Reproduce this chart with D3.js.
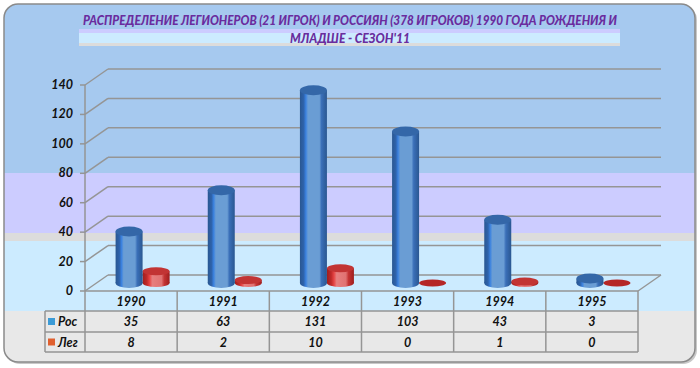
<!DOCTYPE html>
<html><head><meta charset="utf-8">
<script src="https://cdn.jsdelivr.net/npm/d3@7/dist/d3.min.js"></script>
<style>body{margin:0;background:#fff}svg{display:block}</style>
</head><body>
<script>
const categories = ["1990","1991","1992","1993","1994","1995"];
const seriesNames = ["Рос","Лег"];
const rosValues = [35,63,131,103,43,3];
const legValues = [8,2,10,0,1,0];
const yTicks = [0,20,40,60,80,100,120,140];
const titleLines = ["РАСПРЕДЕЛЕНИЕ ЛЕГИОНЕРОВ (21 ИГРОК) И РОССИЯН (378 ИГРОКОВ) 1990 ГОДА РОЖДЕНИЯ И","МЛАДШЕ - СЕЗОН'11"];

const W=700,H=368;
const svg=d3.select("body").append("svg").attr("width",W).attr("height",H);
const defs=svg.append("defs");
const font="Lato, 'Open Sans', sans-serif";

// frame
defs.append("clipPath").attr("id","fr").append("rect").attr("x",4).attr("y",4).attr("width",691).attr("height",358).attr("rx",14);
svg.append("rect").attr("x",6).attr("y",6).attr("width",691).attr("height",358).attr("rx",14).attr("fill","#c8c8c8");
const g=svg.append("g").attr("clip-path","url(#fr)");
const bands=[[0,173,"#A6C9EF"],[173,233,"#CCCCFF"],[233,241,"#DCDCDC"],[241,311,"#CCEBFF"],[311,368,"#E8E8E8"]];
bands.forEach(b=>g.append("rect").attr("x",0).attr("y",b[0]).attr("width",W).attr("height",b[1]-b[0]).attr("fill",b[2]));
svg.append("rect").attr("x",4).attr("y",4).attr("width",691).attr("height",358).attr("rx",14).attr("fill","none").attr("stroke","#8a8a8a").attr("stroke-width",1.5);

// title band
[[29,33,"#CCCCFF"],[33,43,"#CCEBFF"],[43,46,"#DCDCDC"]].forEach(b=>svg.append("rect").attr("x",79).attr("y",b[0]).attr("width",541).attr("height",b[1]-b[0]).attr("fill",b[2]));
const tt=t=>t.attr("text-anchor","middle").attr("font-family",font).attr("font-size",12.5).attr("font-weight","900").attr("font-style","italic").attr("fill","#6A2C9E").attr("lengthAdjust","spacingAndGlyphs");
tt(svg.append("text").attr("x",350).attr("y",25).attr("textLength",534)).text(titleLines[0]);
tt(svg.append("text").attr("x",350).attr("y",43).attr("textLength",120)).text(titleLines[1]);

// scales
const x0=85,x1=638,dx=23,dy=-16;
const x=d3.scaleBand().domain(categories).range([x0,x1]);
const yF=d3.scaleLinear().domain([0,140]).range([291,85]);
const yB=d3.scaleLinear().domain([0,140]).range([291+dy,85+dy]);
const yM=d3.scaleLinear().domain([0,140]).range([283,77]);
const gc="#959595";

// gridlines
yTicks.forEach(t=>{
  svg.append("line").attr("x1",x0).attr("y1",yF(t)).attr("x2",x0+dx).attr("y2",yB(t)).attr("stroke",gc).attr("stroke-width",1.5);
  svg.append("line").attr("x1",x0+dx).attr("y1",yB(t)).attr("x2",x1+dx).attr("y2",yB(t)).attr("stroke",gc).attr("stroke-width",1.5);
  svg.append("line").attr("x1",x0-5).attr("y1",yF(t)).attr("x2",x0).attr("y2",yF(t)).attr("stroke",gc).attr("stroke-width",1.5);
  svg.append("text").attr("x",73).attr("y",yF(t)+4).attr("text-anchor","end").attr("font-family",font).attr("font-size",12.5).attr("font-weight","bold").attr("font-style","italic").attr("fill","#111").text(t);
});
svg.append("line").attr("x1",x0).attr("y1",yF(140)).attr("x2",x0).attr("y2",yF(0)).attr("stroke",gc).attr("stroke-width",1.5);
svg.append("line").attr("x1",x1).attr("y1",yF(0)).attr("x2",x1+dx).attr("y2",yB(0)).attr("stroke",gc).attr("stroke-width",1.5);

// gradients
function grad(id,stops){const lg=defs.append("linearGradient").attr("id",id).attr("x1",0).attr("x2",1).attr("y1",0).attr("y2",0);
  stops.forEach(s=>lg.append("stop").attr("offset",s[0]).attr("stop-color",s[1]));}
grad("gb",[[0,"#2A5791"],[0.14,"#2E63AC"],[0.22,"#3B82E0"],[0.3,"#6A9DD4"],[0.72,"#6A9DD4"],[0.8,"#3A6FB8"],[1,"#2A5791"]]);
grad("gr",[[0,"#9E1E1E"],[0.16,"#C02A2A"],[0.26,"#E64444"],[0.36,"#E77F7F"],[0.7,"#E07272"],[0.8,"#C43434"],[1,"#9E1E1E"]]);

const bw=27;
function cyl(cx,v,gid,top,bot,ry){
  const yt=yM(v), yb=yM(0);
  if(v<=0){
    svg.append("ellipse").attr("cx",cx).attr("cy",yb).attr("rx",bw/2).attr("ry",3.5).attr("fill",bot);
    return;
  }
  svg.append("ellipse").attr("cx",cx).attr("cy",yb).attr("rx",bw/2).attr("ry",ry).attr("fill",`url(#${gid})`);
  svg.append("rect").attr("x",cx-bw/2).attr("y",yt).attr("width",bw).attr("height",yb-yt).attr("fill",`url(#${gid})`);
  svg.append("ellipse").attr("cx",cx).attr("cy",yt).attr("rx",bw/2).attr("ry",ry).attr("fill",top);
}
categories.forEach((c,i)=>{
  const cc=x(c)+x.bandwidth()/2;
  cyl(cc+25,legValues[i],"gr","#C23434","#B52626",4);
  cyl(cc-2,rosValues[i],"gb","#3467A8","#2E5E9E",5);
});

// data table
const rows=[291,311,332,352];
svg.append("line").attr("x1",x0).attr("x2",x1).attr("y1",rows[0]).attr("y2",rows[0]).attr("stroke",gc).attr("stroke-width",1.5);
rows.slice(1).forEach(r=>svg.append("line").attr("x1",45).attr("x2",x1).attr("y1",r).attr("y2",r).attr("stroke",gc).attr("stroke-width",1.5));
svg.append("line").attr("x1",45).attr("x2",45).attr("y1",rows[1]).attr("y2",rows[3]).attr("stroke",gc).attr("stroke-width",1.5);
categories.forEach((c,i)=>{
  svg.append("line").attr("x1",x(c)).attr("x2",x(c)).attr("y1",rows[0]).attr("y2",rows[3]).attr("stroke",gc).attr("stroke-width",1.5);
});
svg.append("line").attr("x1",x1).attr("x2",x1).attr("y1",rows[0]).attr("y2",rows[3]).attr("stroke",gc).attr("stroke-width",1.5);
const tf=t=>t.attr("font-family",font).attr("font-size",12.5).attr("font-weight","bold").attr("font-style","italic").attr("fill","#111");
categories.forEach((c,i)=>{
  const cc=x(c)+x.bandwidth()/2;
  tf(svg.append("text").attr("x",cc).attr("y",306).attr("text-anchor","middle")).text(c);
  tf(svg.append("text").attr("x",cc).attr("y",326).attr("text-anchor","middle")).text(rosValues[i]);
  tf(svg.append("text").attr("x",cc).attr("y",347).attr("text-anchor","middle")).text(legValues[i]);
});
const legCol=["#3C9BD6","#E0602E"];
seriesNames.forEach((s,i)=>{
  const yc=(rows[i+1]+rows[i+2])/2;
  svg.append("rect").attr("x",48).attr("y",yc-3.5).attr("width",7).attr("height",7).attr("fill",legCol[i]);
  tf(svg.append("text").attr("x",58).attr("y",yc+4.5)).text(s);
});
</script>
</body></html>
